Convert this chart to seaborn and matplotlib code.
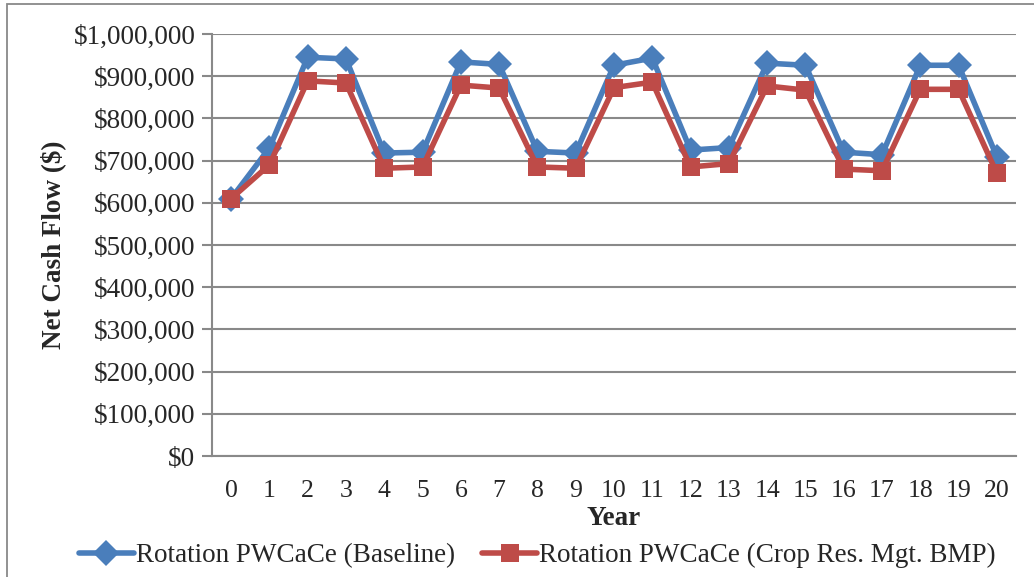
import matplotlib
matplotlib.use("Agg")
import matplotlib.pyplot as plt
import matplotlib.ticker as mticker
from matplotlib.patches import Rectangle
from matplotlib.lines import Line2D
import seaborn as sns
import pandas as pd

years = list(range(21))
baseline = [610000, 730000, 945000, 941000, 718000, 720000, 934000, 928000, 722000, 718000,
            926000, 943000, 725000, 731000, 931000, 926000, 720000, 714000, 926000, 926000, 709000]
bmp = [610000, 690000, 889000, 884000, 682000, 685000, 879000, 872000, 685000, 682000,
       873000, 886000, 685000, 693000, 877000, 867000, 680000, 676000, 869000, 869000, 670000]
series_names = ["Rotation PWCaCe (Baseline)", "Rotation PWCaCe (Crop Res. Mgt. BMP)"]
y_ticks = list(range(0, 1000001, 100000))

df = pd.concat([
    pd.DataFrame({"Year": years, "Value": baseline, "Series": series_names[0]}),
    pd.DataFrame({"Year": years, "Value": bmp, "Series": series_names[1]}),
])

sns.set_style("white")
plt.rcParams["font.family"] = ["Liberation Serif", "DejaVu Serif"]

fig = plt.figure(figsize=(10.34, 5.77), dpi=100)
ax = fig.add_axes([0.205, 0.2097, 0.7776, 0.7313])

fig.patches.append(Rectangle((7 / 1034, -0.1), 1.2, 1 - 4 / 577 + 0.1, transform=fig.transFigure,
                             fill=False, edgecolor="#898989", linewidth=1.3, zorder=0))

palette = {series_names[0]: "#4A7EBB", series_names[1]: "#BE4B48"}
markers = {series_names[0]: "D", series_names[1]: "s"}
sns.lineplot(data=df, x="Year", y="Value", hue="Series", style="Series", markers=markers,
             dashes=False, palette=palette, linewidth=4, markersize=13, markeredgewidth=0,
             ax=ax, legend=False, zorder=3)

ax.set_xlim(-0.5, 20.5)
ax.set_ylim(0, 1000000)
ax.set_yticks(y_ticks)
ax.yaxis.set_major_formatter(mticker.FuncFormatter(lambda v, p: "${:,.0f}".format(v)))
ax.set_xticks(years)
ax.set_xticks([x - 0.5 for x in years] + [20.5], minor=True)
ax.tick_params(axis="x", which="major", length=0, labelsize=18.5, pad=17)
ax.tick_params(axis="x", which="minor", length=7, width=1.5, color="#898989", direction="out")
ax.tick_params(axis="y", which="major", length=7, width=1.5, color="#898989", direction="out",
               labelsize=19.5, pad=5, left=True)
ax.grid(axis="y", color="#898989", linewidth=1.5)
ax.grid(axis="x", visible=False)
for s in ["top", "right"]:
    ax.spines[s].set_visible(False)
for s in ["left", "bottom"]:
    ax.spines[s].set_color("#898989")
    ax.spines[s].set_linewidth(1.5)

ax.set_xlabel("Year", fontsize=19.5, fontweight="bold", labelpad=3)
ax.set_ylabel("Net Cash Flow ($)", fontsize=19.5, fontweight="bold", labelpad=5)

handles = [Line2D([], [], color=palette[n], marker=markers[n], linewidth=4, markersize=13,
                  markeredgewidth=0) for n in series_names]
fig.legend(handles, series_names, loc="center", bbox_to_anchor=(0.52, 0.037), ncol=2,
           frameon=False, fontsize=19.5, handlelength=2.0, handletextpad=0.1, columnspacing=1.0)

fig.savefig("out.png", dpi=100)
